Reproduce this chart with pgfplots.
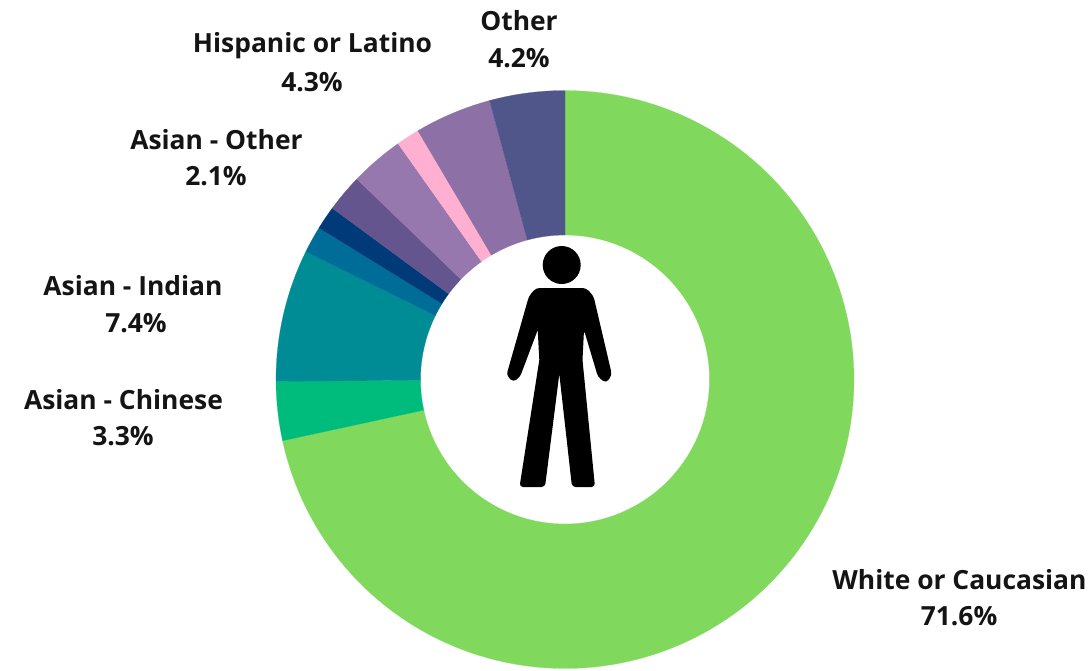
\documentclass[border=0pt]{standalone}
\usepackage{fontspec}
\setmainfont{Open Sans}
\usepackage{pgfplots}
\pgfplotsset{compat=1.18}

\definecolor{sliceWhite}{HTML}{80D95C}
\definecolor{sliceChinese}{HTML}{00BC7C}
\definecolor{sliceIndian}{HTML}{008C95}
\definecolor{sliceBlue}{HTML}{006C98}
\definecolor{sliceNavy}{HTML}{003A78}
\definecolor{sliceSlate}{HTML}{64558F}
\definecolor{sliceLilac}{HTML}{9677AE}
\definecolor{slicePink}{HTML}{FFB0D0}
\definecolor{sliceMauve}{HTML}{8C70A6}
\definecolor{sliceOther}{HTML}{50568A}
\definecolor{labelInk}{HTML}{141414}

% Ring geometry in picture units
\def\cx{565}\def\cy{379.5}\def\rout{289}\def\rin{144.5}
\gdef\runningshare{0}

% One ring slice: share in percent, fill colour.
% Slices run clockwise from twelve o'clock.
\newcommand{\ringslice}[2]{%
  \pgfmathsetmacro{\first}{\runningshare*3.6}%
  \pgfmathsetmacro{\sweep}{#1*3.6}%
  \pgfmathtruncatemacro{\nsteps}{ceil(#1/0.5)+1}%
  \gdef\slicepts{}%
  \foreach \k in {0,...,\nsteps}{%
    \pgfmathsetmacro{\ang}{\first+\sweep*(\k/\nsteps)}%
    \pgfmathsetmacro{\px}{\cx+\rout*sin(\ang)}%
    \pgfmathsetmacro{\py}{\cy-\rout*cos(\ang)}%
    \xdef\slicepts{\slicepts (\px,\py)}%
  }%
  \foreach \k in {\nsteps,...,0}{%
    \pgfmathsetmacro{\ang}{\first+\sweep*(\k/\nsteps)}%
    \pgfmathsetmacro{\px}{\cx+\rin*sin(\ang)}%
    \pgfmathsetmacro{\py}{\cy-\rin*cos(\ang)}%
    \xdef\slicepts{\slicepts (\px,\py)}%
  }%
  \pgfmathsetmacro{\px}{\cx+\rout*sin(\first)}%
  \pgfmathsetmacro{\py}{\cy-\rout*cos(\first)}%
  \xdef\slicepts{\slicepts (\px,\py)}%
  \edef\doslice{\noexpand\addplot[fill=#2,draw=#2,line width=0.2pt,no markers,line join=round] coordinates {\slicepts};}%
  \doslice
  \pgfmathsetmacro{\nextshare}{\runningshare+#1}%
  \xdef\runningshare{\nextshare}%
}

\newcommand{\slicelabel}[3]{%
  \node[font=\fontsize{26.4}{30}\selectfont\bfseries,text=labelInk,anchor=center] at (axis cs:#1,#2) {#3};
}

\begin{document}
\begin{tikzpicture}[x=1pt,y=1pt]
\path[use as bounding box] (0,0) rectangle (1091pt,670pt);
\begin{axis}[
  at={(0,0)}, anchor=south west,
  scale only axis, width=1091pt, height=670pt,
  xmin=0, xmax=1091, ymin=0, ymax=670,
  y dir=reverse,
  hide axis, clip=false,
]
\ringslice{71.6}{sliceWhite}
\ringslice{3.3}{sliceChinese}
\ringslice{7.4}{sliceIndian}
\ringslice{1.5}{sliceBlue}
\ringslice{1.3}{sliceNavy}
\ringslice{2.1}{sliceSlate}
\ringslice{3.0}{sliceLilac}
\ringslice{1.3}{slicePink}
\ringslice{4.3}{sliceMauve}
\ringslice{4.2}{sliceOther}

% Person icon in the hole of the ring
\fill[black] (axis cs:561.7,265) circle[radius=19pt];
\fill[black,rounded corners=3.5pt]
  (axis cs:536,288) -- (axis cs:586,288) -- (axis cs:593.5,296)
  -- (axis cs:612,375) -- (axis cs:606,383) -- (axis cs:598,377)
  -- (axis cs:584,330) [sharp corners] -- (axis cs:582.5,360) [rounded corners=3.5pt]
  -- (axis cs:595,487) -- (axis cs:572,487) [sharp corners] -- (axis cs:559.3,374) [rounded corners=3.5pt]
  -- (axis cs:545,487) -- (axis cs:519.5,487) [sharp corners] -- (axis cs:539.3,360)
  -- (axis cs:537.7,330) [rounded corners=3.5pt]
  -- (axis cs:520,377) -- (axis cs:513,382) -- (axis cs:506.5,375)
  -- (axis cs:529,296) -- cycle;

\slicelabel{519}{21}{Other}
\slicelabel{519}{58}{4.2\%}
\slicelabel{312.5}{46}{Hispanic or Latino}
\slicelabel{312}{82}{4.3\%}
\slicelabel{216.5}{140}{Asian - Other}
\slicelabel{216}{176}{2.1\%}
\slicelabel{133}{286}{Asian - Indian}
\slicelabel{136}{323}{7.4\%}
\slicelabel{123.5}{400}{Asian - Chinese}
\slicelabel{123}{436}{3.3\%}
\slicelabel{959.5}{580}{White or Caucasian}
\slicelabel{959}{616}{71.6\%}
\end{axis}
\end{tikzpicture}
\end{document}
